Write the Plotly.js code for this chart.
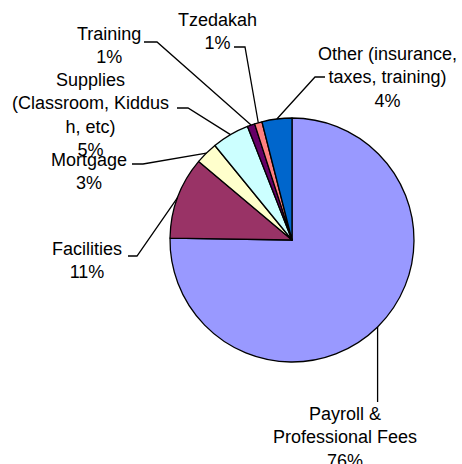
<!DOCTYPE html>
<html>
<head>
<meta charset="utf-8">
<script src="https://cdn.plot.ly/plotly-3.0.1.min.js"></script>
<style>html,body{margin:0;padding:0;background:#fff;}#chart{width:462px;height:464px;}</style>
</head>
<body>
<div id="chart"></div>
<script>
// ---- data ----
const categories = ["Payroll &<br>Professional Fees", "Facilities", "Mortgage", "Supplies<br>(Classroom, Kiddus<br>h, etc)", "Training", "Tzedakah", "Other (insurance,<br>taxes, training)"];
const values = [76, 11, 3, 5, 1, 1, 4];
const colors = ["#9999FF", "#993366", "#FFFFCC", "#CCFFFF", "#660066", "#FF8080", "#0066CC"];

// ---- layout constants (pixels) ----
const W = 462, H = 464;
const CX = 292, CY = 240, R = 122;
// label placement: text center x, text top y, leader elbow path start points
const labelPos = [
  {x: 345, top: 402, path: []},                       // Payroll (vertical line)
  {x: 87,  top: 237, path: [[128,256],[137,256]]},    // Facilities
  {x: 89,  top: 148, path: [[132,164],[143,164]]},    // Mortgage
  {x: 90,  top: 68,  path: [[177,108],[188,108]]},    // Supplies
  {x: 109, top: 22,  path: [[144,42],[157,42]]},      // Training
  {x: 217, top: 8,   path: [[234,47],[245,47]]},      // Tzedakah
  {x: 387, top: 42,  path: [[325,77],[315,77]]}       // Other
];

const px = x => x / W;
const py = y => 1 - y / H;

const total = values.reduce((a, b) => a + b, 0);
let cum = 0;
const shapes = [];
const annotations = [];
values.forEach((v, i) => {
  const mid = (cum + v / 2) / total * 2 * Math.PI; // clockwise from top
  cum += v;
  const ex = CX + R * Math.sin(mid);
  const ey = CY - R * Math.cos(mid);
  const lp = labelPos[i];
  let pts = lp.path.slice();
  if (pts.length === 0) pts = [[ex, lp.top]];
  pts.push([ex, ey]);
  const d = pts.map((p, k) => (k === 0 ? "M" : "L") + px(p[0]).toFixed(5) + "," + py(p[1]).toFixed(5)).join(" ");
  shapes.push({type: "path", xref: "paper", yref: "paper", path: d, line: {color: "#000", width: 1.3}});
  annotations.push({
    xref: "paper", yref: "paper", x: px(lp.x), y: py(lp.top),
    xanchor: "center", yanchor: "top", showarrow: false, align: "center",
    text: categories[i] + "<br>" + v + "%",
    font: {family: "Liberation Sans, Arial, sans-serif", size: 18, color: "#000"}
  });
});

const trace = {
  type: "pie",
  labels: categories,
  values: values,
  sort: false,
  direction: "clockwise",
  rotation: 0,
  textinfo: "none",
  hoverinfo: "none",
  marker: {colors: colors, line: {color: "#000", width: 1.3}},
  domain: {x: [px(CX - R), px(CX + R)], y: [py(CY + R), py(CY - R)]},
  showlegend: false
};

Plotly.newPlot("chart", [trace], {
  width: W, height: H,
  margin: {l: 0, r: 0, t: 0, b: 0},
  paper_bgcolor: "#fff",
  showlegend: false,
  shapes: shapes,
  annotations: annotations
}, {staticPlot: true});
</script>
</body>
</html>
